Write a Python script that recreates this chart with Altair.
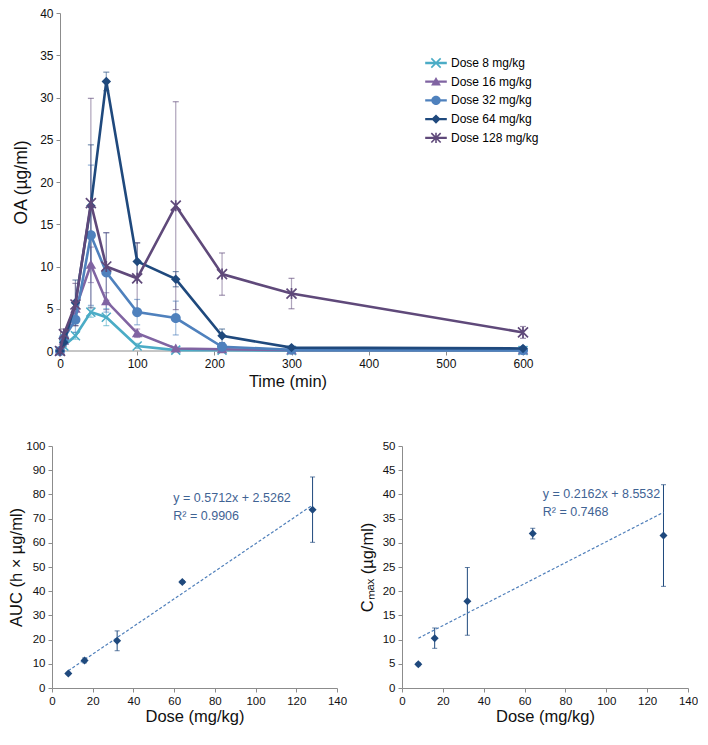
import math
import altair as alt
import pandas as pd

FONT = "Liberation Sans"

# ---------------- data: top panel ----------------
times = [0, 5, 20, 40, 60, 100, 150, 210, 300, 600]
series_names = ["Dose 8 mg/kg", "Dose 16 mg/kg", "Dose 32 mg/kg", "Dose 64 mg/kg", "Dose 128 mg/kg"]
oa_8 = [0, 0.6, 1.8, 4.6, 4.0, 0.6, 0.1, 0.1, 0.05, 0.05]
sd_8 = [0, 0.3, 0.4, 0.6, 1.0, 0.3, 0.05, 0, 0, 0]
oa_16 = [0, 1.2, 5.0, 10.2, 5.9, 2.1, 0.3, 0.2, 0.1, 0.1]
sd_16 = [0, 0.5, 1.0, 2.1, 1.0, 0.5, 0.1, 0.1, 0, 0]
oa_32 = [0, 1.5, 3.7, 13.7, 9.3, 4.6, 3.9, 0.5, 0.15, 0.1]
sd_32 = [0, 0.8, 1.5, 8.3, 4.7, 1.5, 2.0, 0.3, 0.1, 0.05]
oa_64 = [0, 1.0, 5.7, 17.2, 31.9, 10.6, 8.5, 1.8, 0.4, 0.3]
sd_64 = [0, 0.5, 2.7, 7.2, 1.1, 2.2, 0.9, 0.8, 0.1, 0.1]
oa_128 = [0, 2.0, 5.5, 17.5, 10.0, 8.6, 17.2, 9.1, 6.8, 2.2]
sd_128 = [0, 0.6, 2.5, 12.4, 4.0, 4.2, 12.3, 2.5, 1.8, 0.7]
series_values = [oa_8, oa_16, oa_32, oa_64, oa_128]
series_sds = [sd_8, sd_16, sd_32, sd_64, sd_128]
series_colors = ["#4BACC6", "#8064A2", "#4F81BD", "#1F497D", "#5F497A"]

# ---------------- data: bottom panels ----------------
doses = [8, 16, 32, 64, 128]
auc = [6.0, 11.4, 19.5, 43.8, 73.7]
auc_sd = [0.5, 1.0, 4.1, 0.6, 13.5]
cmax = [4.9, 10.3, 17.9, 31.9, 31.5]
cmax_sd = [0.3, 2.1, 7.0, 1.1, 10.5]
auc_eq = ["y = 0.5712x + 2.5262", "R² = 0.9906"]
cmax_eq = ["y = 0.2162x + 8.5532", "R² = 0.7468"]

# ---------------- marker shapes ----------------
def poly(pts):
    return "M" + "L".join(f"{x:.3f},{y:.3f}" for x, y in pts) + "Z"

def seg(ax, ay, bx, by, h):
    dx, dy = bx - ax, by - ay
    ln = math.hypot(dx, dy)
    nx, ny = -dy / ln * h, dx / ln * h
    return poly([(ax + nx, ay + ny), (bx + nx, by + ny), (bx - nx, by - ny), (ax - nx, ay - ny)])

def marker(kind, k=1.0, t=0.34):
    h = t * k / 2
    if kind == "circle":
        n = 28
        return poly([(k * math.cos(-2 * math.pi * i / n), k * math.sin(-2 * math.pi * i / n)) for i in range(n)])
    if kind == "triangle":
        return poly([(0, -k), (-1.05 * k, 0.8 * k), (1.05 * k, 0.8 * k)])
    if kind == "diamond":
        return poly([(0, -k), (-k, 0), (0, k), (k, 0)])
    x = seg(-k, -k, k, k, h) + seg(-k, k, k, -k, h)
    if kind == "x":
        return x
    return x + seg(0, -1.1 * k, 0, 1.1 * k, h)

kinds = ["x", "triangle", "circle", "diamond", "asterisk"]
sizes = [81, 100, 100, 90, 100]
legend_paths = [marker(kd, 0.52, 0.34) + seg(-1.2, 0, 1.2, 0, 0.13) for kd in kinds]

rows = []
for name, vals, sds in zip(series_names, series_values, series_sds):
    for t, v, s in zip(times, vals, sds):
        rows.append({"series": name, "t": t, "oa": v, "lo": max(v - s, 0), "hi": v + s, "sd": s})
df = pd.DataFrame(rows)

AXIS_GRAY = "#8c8c8c"
x_axis_top = alt.Axis(values=list(range(0, 601, 100)), title="Time (min)", titleFontSize=16.5,
                      titlePadding=4, titleFontWeight="normal", labelOverlap=False, labelFlush=False,
                      domain=False)
y_axis_top = alt.Axis(values=list(range(0, 41, 5)), title="OA (µg/ml)", titleFontSize=17.5,
                      titlePadding=9, titleFontWeight="normal", labelOverlap=False, labelFlush=False,
                      offset=-8)
x_scale_top = alt.Scale(domain=[-10.37, 600], nice=False)
y_scale_top = alt.Scale(domain=[0, 40], nice=False)

def xt(f="t"):
    return alt.X(f + ":Q", scale=x_scale_top, axis=x_axis_top)

def yt(f="oa"):
    return alt.Y(f + ":Q", scale=y_scale_top, axis=y_axis_top)

base = alt.Chart(df)
layers = [
    base.transform_filter("datum.t == 0 && datum.series == 'Dose 8 mg/kg'").mark_rule(
        color=AXIS_GRAY, strokeWidth=1).encode(
        x=alt.datum(0, scale=x_scale_top, axis=x_axis_top), x2=alt.datum(600),
        y=alt.datum(0, scale=y_scale_top, axis=y_axis_top))
]
for name, col in zip(series_names, series_colors):
    eb = base.transform_filter(alt.datum.series == name).transform_filter(alt.datum.sd > 0)
    layers.append(eb.mark_rule(color=col, opacity=0.5, strokeWidth=1.2).encode(
        x=xt(), y=yt("lo"), y2="hi:Q"))
    for f in ["lo", "hi"]:
        layers.append(eb.mark_tick(color=col, opacity=0.6, orient="horizontal", size=6, thickness=1.2).encode(
            x=xt(), y=yt(f)))
for name, col, kd, sz in zip(series_names, series_colors, kinds, sizes):
    s = base.transform_filter(alt.datum.series == name)
    layers.append(s.mark_line(color=col, strokeWidth=2.6).encode(x=xt(), y=yt()))
    layers.append(s.mark_point(shape=marker(kd), filled=True, opacity=1, size=sz, color=col).encode(x=xt(), y=yt()))

legend_layer = base.transform_filter("false").mark_point(filled=True, opacity=1).encode(
    x=xt(), y=yt(),
    color=alt.Color("series:N", title=None, scale=alt.Scale(domain=series_names, range=series_colors),
                    legend=alt.Legend(orient="none", legendX=375, legendY=41, symbolSize=324,
                                      labelFontSize=12, labelOffset=6, rowPadding=3.7, padding=0,
                                      labelFont=FONT, symbolStrokeWidth=0)),
    shape=alt.Shape("series:N", title=None, scale=alt.Scale(domain=series_names, range=legend_paths)),
)
layers.append(legend_layer)

top = alt.layer(*layers).properties(width=471, height=338)

# ---------------- bottom panels ----------------
NAVY = "#1F497D"
EQ_COL = "#3F6394"
TREND = "#4F7FBA"

def dose_panel(vals, sds, field, ymax, ystep, ytitle, eq, eq_x, eq_y, eq_dy, width, tpad):
    d = pd.DataFrame({"dose": doses, field: vals, "lo": [v - s for v, s in zip(vals, sds)],
                      "hi": [v + s for v, s in zip(vals, sds)]})
    xs = alt.Scale(domain=[0, 140], nice=False)
    xa = alt.Axis(values=list(range(0, 141, 20)), title="Dose (mg/kg)", titleFontSize=16.5,
                  titlePadding=2, labelFontSize=11.5, titleFontWeight="normal",
                  labelOverlap=False, labelFlush=False)
    ys = alt.Scale(domain=[0, ymax], nice=False)
    ya = alt.Axis(values=list(range(0, ymax + 1, ystep)), title=ytitle, titleFontSize=16.5,
                  titlePadding=tpad, labelFontSize=11.5, titleFontWeight="normal",
                  labelOverlap=False, labelFlush=False)
    x = alt.X("dose:Q", scale=xs, axis=xa)

    def y(f):
        return alt.Y(f + ":Q", scale=ys, axis=ya)

    b = alt.Chart(d)
    one = b.transform_filter(alt.datum.dose == doses[0])
    parts = [
        b.mark_rule(color=NAVY, strokeWidth=1).encode(x=x, y=y("lo"), y2="hi:Q"),
        b.mark_tick(color=NAVY, orient="horizontal", size=5, thickness=1).encode(x=x, y=y("lo")),
        b.mark_tick(color=NAVY, orient="horizontal", size=5, thickness=1).encode(x=x, y=y("hi")),
        b.transform_regression("dose", field).mark_line(color=TREND, strokeWidth=1.2, strokeDash=[3, 2]).encode(x=x, y=y(field)),
        b.mark_point(shape=marker("diamond"), filled=True, opacity=1, size=64, color=NAVY).encode(x=x, y=y(field)),
        one.mark_text(text=eq[0], align="left", baseline="middle", fontSize=12.5, fontWeight="normal",
                      color=EQ_COL, font=FONT).encode(x=alt.datum(eq_x, scale=xs, axis=xa),
                                                      y=alt.datum(eq_y, scale=ys, axis=ya)),
        one.mark_text(text=eq[1], align="left", baseline="middle", fontSize=12.5, fontWeight="normal",
                      color=EQ_COL, font=FONT).encode(x=alt.datum(eq_x, scale=xs, axis=xa),
                                                      y=alt.datum(eq_y - eq_dy, scale=ys, axis=ya)),
    ]
    return alt.layer(*parts).properties(width=width, height=242)

left = dose_panel(auc, auc_sd, "auc", 100, 10, "AUC (h × µg/ml)", auc_eq, 59.6, 78.5, 7.4, 285, 1.3)
right = dose_panel(cmax, cmax_sd, "cmax", 50, 5, "Cₘₐₓ (µg/ml)", cmax_eq, 68.9, 40.1, 3.7, 286, 7)

bottom = alt.hconcat(left, right, spacing=12)

chart = alt.vconcat(top, bottom, spacing=50).resolve_scale(
    color="independent", shape="independent").properties(
    padding={"left": 0, "top": -1, "right": 0, "bottom": 0}
).configure_view(stroke=None).configure_axis(
    labelFont=FONT, titleFont=FONT, labelFontSize=12, labelColor="#111", titleColor="#111",
    titleFontWeight="normal", grid=False, domainColor=AXIS_GRAY, tickColor=AXIS_GRAY,
    tickSize=4, labelPadding=3, labelFlush=False, labelOverlap=False
)

chart.save("out.html", embed_options={"renderer": "svg", "actions": False})
